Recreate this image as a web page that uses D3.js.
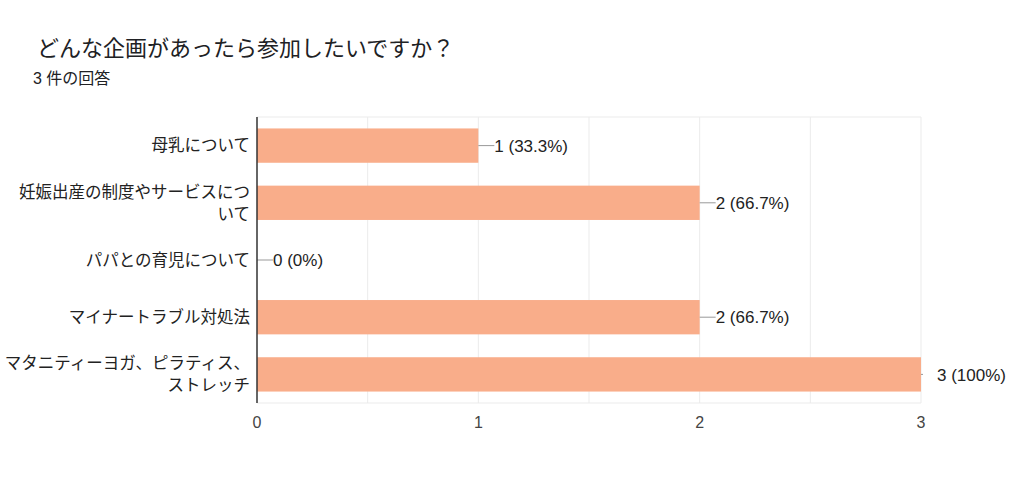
<!DOCTYPE html>
<html>
<head>
<meta charset="utf-8">
<script src="https://cdn.jsdelivr.net/npm/d3@7"></script>
<style>
  body { margin: 0; background: #fff; }
  text { font-family: "Liberation Sans", "Noto Sans CJK JP", sans-serif; }
</style>
</head>
<body>
<div id="chart"></div>
<script>
// answer options and their counts
var categories = [
    "母乳について",
    "妊娠出産の制度やサービスについて",
    "パパとの育児について",
    "マイナートラブル対処法",
    "マタニティーヨガ、ピラティス、ストレッチ"
];
var counts = [1, 2, 0, 2, 3];
var totalResponses = 3;
var xTicks = [0, 1, 2, 3];
var gridTicks = [0.5, 1, 1.5, 2, 2.5, 3];

var width = 1024, height = 487;
var margin = {top: 117, right: 103, bottom: 84, left: 257};
var innerW = width - margin.left - margin.right,
    innerH = height - margin.top - margin.bottom;

var svg = d3.select("#chart").append("svg")
    .attr("width", width)
    .attr("height", height);

svg.append("text")
    .attr("x", 37).attr("y", 56)
    .style("font-size", "22px")
    .style("fill", "#202124")
    .text("どんな企画があったら参加したいですか？");

svg.append("text")
    .attr("x", 33).attr("y", 84)
    .style("font-size", "16px")
    .style("fill", "#202124")
    .text(totalResponses + " 件の回答");

var g = svg.append("g")
    .attr("transform", "translate(" + margin.left + "," + margin.top + ")");

var x = d3.scaleLinear().domain([0, 3]).range([0, innerW]);
var y = d3.scaleBand().domain(categories).range([0, innerH])
    .paddingInner(0.4).paddingOuter(0.2);

// grid
g.selectAll(".grid")
    .data(gridTicks)
  .enter().append("line")
    .attr("x1", function(d) { return x(d); })
    .attr("x2", function(d) { return x(d); })
    .attr("y1", 0).attr("y2", innerH)
    .style("stroke", "#ebebeb")
    .style("stroke-width", 1);

g.append("line")
    .attr("x1", 0).attr("x2", innerW)
    .attr("y1", 0).attr("y2", 0)
    .style("stroke", "#ebebeb");
g.append("line")
    .attr("x1", 0).attr("x2", innerW)
    .attr("y1", innerH).attr("y2", innerH)
    .style("stroke", "#ebebeb");

// bars
g.selectAll(".bar")
    .data(counts)
  .enter().append("rect")
    .attr("class", "bar")
    .attr("x", 0)
    .attr("y", function(d, i) { return y(categories[i]); })
    .attr("width", function(d) { return x(d); })
    .attr("height", y.bandwidth())
    .style("fill", "#f9ad8a");

// value labels with leader lines
counts.forEach(function(d, i) {
    var cy = y(categories[i]) + y.bandwidth() / 2;
    var x0 = x(d);
    var pct = Math.round(d / totalResponses * 1000) / 10;
    var label = d + " (" + pct + "%)";
    var full = d === totalResponses;
    g.append("line")
        .attr("x1", x0).attr("x2", x0 + (full ? 2 : 16))
        .attr("y1", cy).attr("y2", cy)
        .style("stroke", "#999");
    g.append("text")
        .attr("x", x0 + 16).attr("y", cy)
        .attr("dy", ".36em")
        .style("font-size", "17px")
        .style("fill", "#222")
        .text(label);
});

// left axis line
g.append("line")
    .attr("x1", 0).attr("x2", 0)
    .attr("y1", 0).attr("y2", innerH)
    .style("stroke", "#333")
    .style("stroke-width", 1.5);

// x tick labels
g.selectAll(".xtick")
    .data(xTicks)
  .enter().append("text")
    .attr("x", function(d) { return x(d); })
    .attr("y", innerH + 25)
    .style("text-anchor", "middle")
    .style("font-size", "16px")
    .style("fill", "#444")
    .text(function(d) { return d; });

// category labels, wrapped by character (punctuation stays at line end)
var maxW = 240, lineH = 22;
var noStart = "、。，．）」ー";
categories.forEach(function(c, i) {
    var cy = y(c) + y.bandwidth() / 2;
    var t = g.append("text")
        .attr("x", -7)
        .style("text-anchor", "end")
        .style("font-size", "16.5px")
        .style("fill", "#222");
    var lines = [], cur = "";
    var probe = t.append("tspan");
    for (var k = 0; k < c.length; k++) {
        probe.text(cur + c[k]);
        if (probe.node().getComputedTextLength() > maxW && cur.length
                && noStart.indexOf(c[k]) < 0) {
            lines.push(cur);
            cur = c[k];
        } else {
            cur += c[k];
        }
    }
    lines.push(cur);
    probe.remove();
    var startY = cy - (lines.length - 1) * lineH / 2;
    lines.forEach(function(l, j) {
        t.append("tspan")
            .attr("x", -7)
            .attr("y", startY + j * lineH)
            .attr("dy", ".35em")
            .text(l);
    });
});
</script>
</body>
</html>
